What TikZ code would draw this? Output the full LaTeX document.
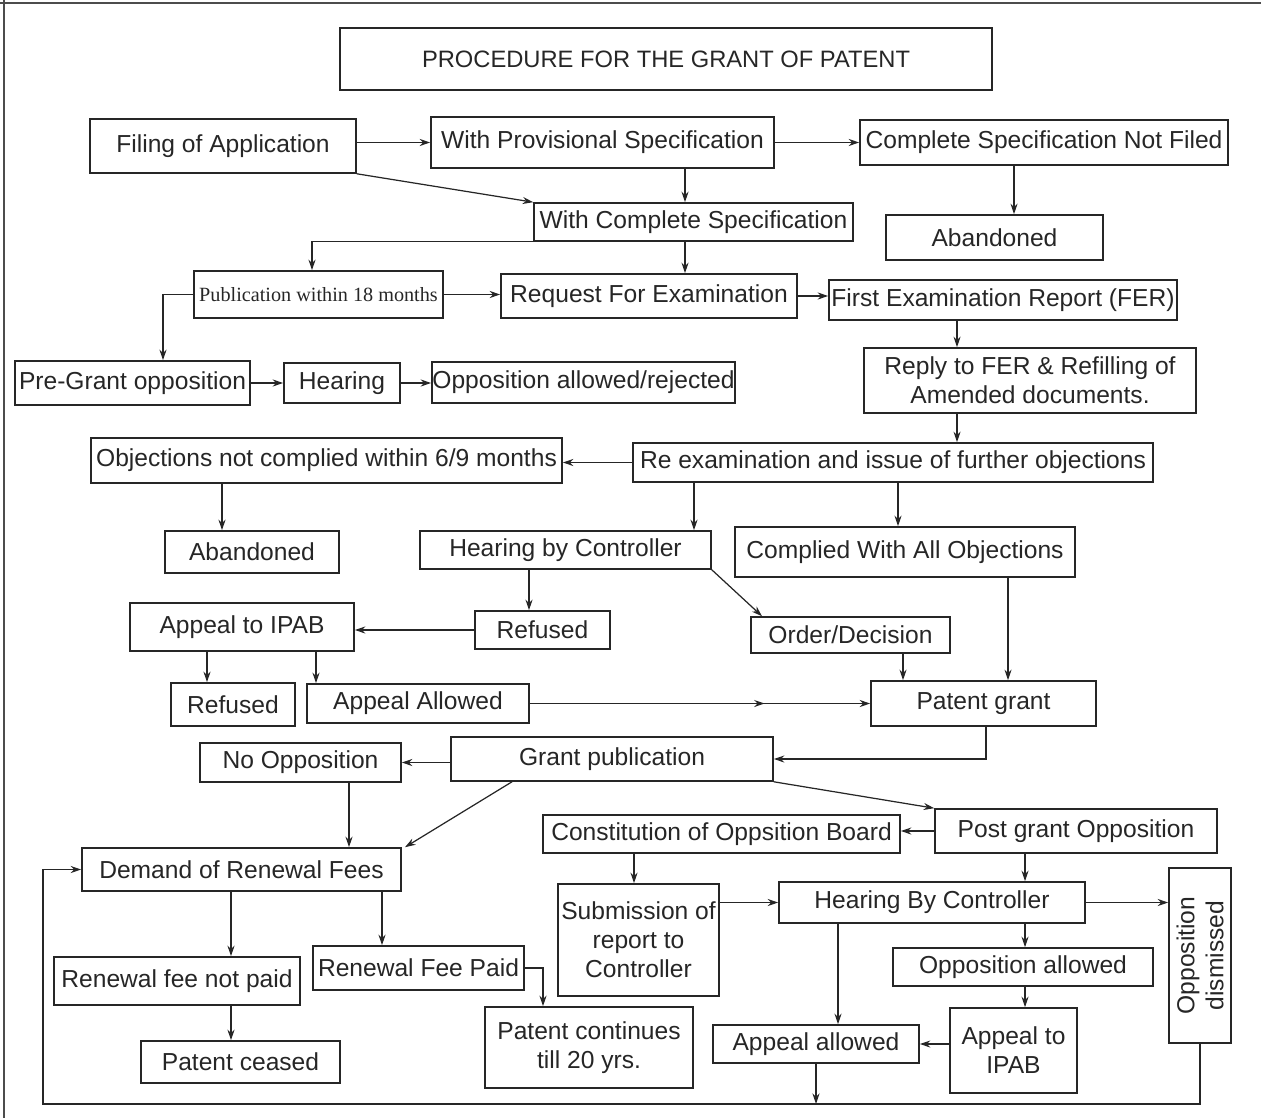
\documentclass[tikz,border=0pt]{standalone}
\usepackage{fontspec}
\setmainfont{Liberation Sans}
\newfontfamily\serifpub{Liberation Serif}
\usetikzlibrary{arrows.meta,decorations.markings}
\newcommand\boxfont{\fontsize{14}{16.5}\selectfont}
\tikzset{
  bx/.style 2 args={draw=black!85, line width=0.9pt, minimum width=#1*0.02cm,
    minimum height=#2*0.02cm, inner sep=0pt, align=center, font=\boxfont, text=black!85},
  arr/.style={-{Stealth[length=6pt,width=4pt]}, line width=0.7pt, draw=black!85},
}
\begin{document}
\begin{tikzpicture}[x=0.02cm, y=-0.02cm]
\useasboundingbox (0,0) rectangle (1261,1118);
\draw[line width=0.8pt, black!70] (0,3) -- (1261,3);
\draw[line width=0.8pt, black!70] (4,0) -- (4,1118);

% nodes
\node[bx={652}{62}, font=\fontsize{13.5}{16}\selectfont] (title) at (666,59) {PROCEDURE FOR THE GRANT OF PATENT};
\node[bx={266}{54}] (fil) at (223,146) {Filing of Application};
\node[bx={343}{51}] (prov) at (602.5,142.5) {With Provisional Specification};
\node[bx={368}{45}] (nf) at (1044,142.5) {Complete Specification Not Filed};
\node[bx={319}{38}] (comp) at (693.5,222) {With Complete Specification};
\node[bx={217}{45}] (ab1) at (994.5,237.5) {Abandoned};
\node[bx={249}{47}, font=\serifpub\fontsize{11.5}{13}\selectfont] (pub) at (318.5,294.5) {Publication within 18 months};
\node[bx={296}{44}] (req) at (649,296) {Request For Examination};
\node[bx={348}{40}] (fer) at (1003,300) {First Examination Report (FER)};
\node[bx={235}{44}] (pre) at (132.5,383) {Pre-Grant opposition};
\node[bx={116}{40}] (hear) at (342,383) {Hearing};
\node[bx={303}{41}] (oar) at (583.5,382.5) {Opposition allowed/rejected};
\node[bx={332}{65}] (rep) at (1030,380.5) {Reply to FER \& Refilling of\\Amended documents.};
\node[bx={471}{45}] (obj) at (326.5,460.5) {Objections not complied within 6/9 months};
\node[bx={520}{39}] (rex) at (893,462.5) {Re examination and issue of further objections};
\node[bx={174}{42}] (ab2) at (252,552) {Abandoned};
\node[bx={291}{38}] (hbc) at (565.5,550) {Hearing by Controller};
\node[bx={340}{50}] (cwa) at (905,552) {Complied With All Objections};
\node[bx={224}{48}] (ipab) at (242,627) {Appeal to IPAB};
\node[bx={135}{38}] (ref1) at (542.5,630) {Refused};
\node[bx={199}{36}] (ord) at (850.5,635) {Order/Decision};
\node[bx={124}{43}] (ref2) at (233,704.5) {Refused};
\node[bx={222}{39}] (aal) at (418,703.5) {Appeal Allowed};
\node[bx={225}{45}] (pg) at (983.5,703.5) {Patent grant};
\node[bx={201}{39}] (noop) at (300.5,762.5) {No Opposition};
\node[bx={322}{44}] (gpub) at (612,759) {Grant publication};
\node[bx={357}{38}] (cob) at (721.5,834) {Constitution of Oppsition Board};
\node[bx={282}{44}] (pgo) at (1076,831) {Post grant Opposition};
\node[bx={319}{43}] (dem) at (241.5,869.5) {Demand of Renewal Fees};
\node[bx={161}{112}] (sub) at (638.5,940) {Submission of\\report to\\Controller};
\node[bx={306}{41}] (hbc2) at (932,902.5) {Hearing By Controller};
\node[bx={175}{62}, rotate=90] (odis) at (1200,955.5) {Opposition\\dismissed};
\node[bx={246}{48}] (rnp) at (177,981) {Renewal fee not paid};
\node[bx={211}{44}] (rfp) at (418.5,968) {Renewal Fee Paid};
\node[bx={260}{38}] (oal) at (1023,967) {Opposition allowed};
\node[bx={199}{42}] (pc) at (240.5,1062) {Patent ceased};
\node[bx={208}{81}] (pct) at (589,1047.5) {Patent continues\\till 20 yrs.};
\node[bx={206}{38}] (apal) at (816,1044) {Appeal allowed};
\node[bx={127}{85}] (ipab2) at (1013.5,1050.5) {Appeal to\\IPAB};

% helper coordinates
\foreach \xx in {163,207,222,231,312,316,349,382,405,512,529,543,634,685,694,762,838,898,903,957,986,1008,1014,1025}
  \coordinate (X\xx) at (\xx,0);
\coordinate (C43) at (43,1104);

% connectors
\draw[arr] (fil.east |- prov.west) -- (prov.west);
\draw[arr] (fil.south east) -- (comp.north west);
\draw[arr] (prov.east) -- (nf.west);
\draw[arr] (prov.south -| X685) -- (comp.north -| X685);
\draw[arr] (nf.south -| X1014) -- (ab1.north -| X1014);
\draw[arr] (comp.south west) -| (pub.north -| X312);
\draw[arr] (comp.south -| X685) -- (req.north -| X685);
\draw[arr] (pub.east) -- (req.west |- pub.east);
\draw[arr] (req.east) -- (fer.west |- req.east);
\draw[arr] (pub.west) -| (pre.north -| X163);
\draw[arr] (fer.south -| X957) -- (rep.north -| X957);
\draw[arr] (pre.east) -- (hear.west |- pre.east);
\draw[arr] (hear.east) -- (oar.west |- hear.east);
\draw[arr] (rep.south -| X957) -- (rex.north -| X957);
\draw[arr] (rex.west) -- (obj.east |- rex.west);
\draw[arr] (obj.south -| X222) -- (ab2.north -| X222);
\draw[arr] (rex.south -| X694) -- (hbc.north -| X694);
\draw[arr] (rex.south -| X898) -- (cwa.north -| X898);
\draw[arr] (hbc.south -| X529) -- (ref1.north -| X529);
\draw[arr] (hbc.south east) -- (ord.north -| X762);
\draw[arr] (ref1.west) -- (ipab.east |- ref1.west);
\draw[arr] (ipab.south -| X207) -- (ref2.north -| X207);
\draw[arr] (ipab.south -| X316) -- (aal.north -| X316);
\draw[arr] (cwa.south -| X1008) -- (pg.north -| X1008);
\draw[arr] (ord.south -| X903) -- (pg.north -| X903);
\draw[arr, postaction={decorate, decoration={markings, mark=at position 0.69 with {\arrow{Stealth[length=6pt,width=4pt]}}}}] (aal.east) -- (pg.west |- aal.east);
\draw[arr] (pg.south -| X986) |- (gpub.east);
\draw[arr] (gpub.west |- noop.east) -- (noop.east);
\draw[arr] (noop.south -| X349) -- (dem.north -| X349);
\draw[arr] (gpub.south -| X512) -- (dem.north -| X405);
\draw[arr] (gpub.south east) -- (pgo.north west);
\draw[arr] (pgo.west) -- (cob.east |- pgo.west);
\draw[arr] (cob.south -| X634) -- (sub.north -| X634);
\draw[arr] (pgo.south -| X1025) -- (hbc2.north -| X1025);
\draw[arr] (sub.east |- hbc2.west) -- (hbc2.west);
\draw[arr] (hbc2.east) -- (odis.north |- hbc2.east);
\draw[arr] (hbc2.south -| X1025) -- (oal.north -| X1025);
\draw[arr] (oal.south -| X1025) -- (ipab2.north -| X1025);
\draw[arr] (hbc2.south -| X838) -- (apal.north -| X838);
\draw[arr] (ipab2.west |- apal.east) -- (apal.east);
\draw[arr] (dem.south -| X231) -- (rnp.north -| X231);
\draw[arr] (dem.south -| X382) -- (rfp.north -| X382);
\draw[arr] (rnp.south -| X231) -- (pc.north -| X231);
\draw[arr] (rfp.east) -| (pct.north -| X543);
\draw[arr] (apal.south) -- (apal.south |- C43);
\draw[arr] (odis.west) |- (C43) |- (dem.west);
\end{tikzpicture}
\end{document}
